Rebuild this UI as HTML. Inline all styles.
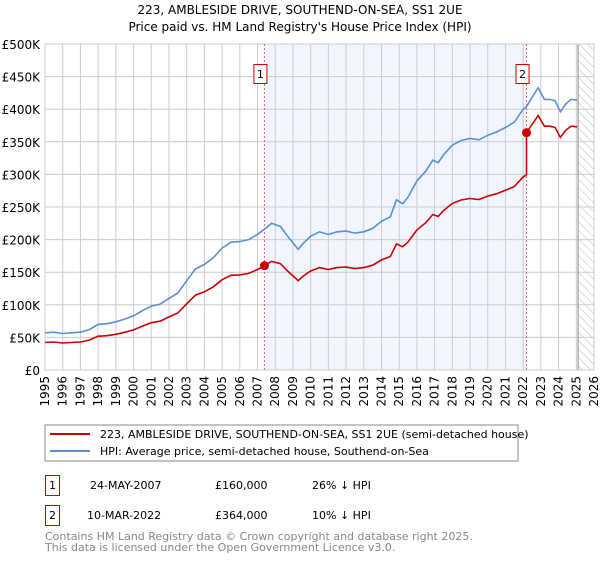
<!DOCTYPE html>
<html><head><meta charset="utf-8"><style>
body{margin:0;background:#fff;font-family:"DejaVu Sans","Liberation Sans",sans-serif;}
svg text{font-family:"DejaVu Sans","Liberation Sans",sans-serif;}
</style></head><body>
<svg id="chart" width="600" height="560" viewBox="0 0 600 560" xmlns="http://www.w3.org/2000/svg">
<defs><pattern id="hatch" width="6" height="6" patternUnits="userSpaceOnUse" patternTransform="rotate(-45)"><line x1="0" y1="0" x2="0" y2="6" stroke="#bbb" stroke-width="1"/></pattern></defs>
<text x="300" y="14" text-anchor="middle" font-size="12">223, AMBLESIDE DRIVE, SOUTHEND-ON-SEA, SS1 2UE</text>
<text x="300" y="31" text-anchor="middle" font-size="12">Price paid vs. HM Land Registry's House Price Index (HPI)</text>
<g id="plot"></g>
<rect x="45" y="425" width="473" height="36" fill="#fff" stroke="#888"/>
<line x1="50" y1="434" x2="90" y2="434" stroke="#cc0000" stroke-width="2"/>
<text x="100" y="438" font-size="11">223, AMBLESIDE DRIVE, SOUTHEND-ON-SEA, SS1 2UE (semi-detached house)</text>
<line x1="50" y1="451" x2="90" y2="451" stroke="#5b8fd4" stroke-width="2"/>
<text x="100" y="455" font-size="11">HPI: Average price, semi-detached house, Southend-on-Sea</text>
<g>
<rect x="45.5" y="475.5" width="14" height="20" fill="#fff" stroke="#c00"/>
<text x="52.5" y="489" text-anchor="middle" font-size="11">1</text>
<text x="90" y="489" font-size="11">24-MAY-2007</text>
<text x="215" y="489" font-size="11">£160,000</text>
<text x="312" y="489" font-size="11">26% ↓ HPI</text></g>
<g>
<rect x="45.5" y="505.5" width="14" height="20" fill="#fff" stroke="#c00"/>
<text x="52.5" y="519" text-anchor="middle" font-size="11">2</text>
<text x="87" y="519" font-size="11">10-MAR-2022</text>
<text x="215" y="519" font-size="11">£364,000</text>
<text x="312" y="519" font-size="11">10% ↓ HPI</text></g>
<text x="45" y="540" font-size="11" fill="#888">Contains HM Land Registry data © Crown copyright and database right 2025.</text>
<text x="45" y="551" font-size="11" fill="#888">This data is licensed under the Open Government Licence v3.0.</text>
</svg>
<script>
const hpiYears=[1995,1995.5,1996,1996.5,1997,1997.5,1998,1998.5,1999,1999.5,2000,2000.5,2001,2001.5,2002,2002.5,2003,2003.5,2004,2004.5,2005,2005.5,2006,2006.5,2007,2007.39,2007.8,2008.3,2008.7,2009.3,2009.6,2010,2010.5,2011,2011.5,2012,2012.5,2013,2013.5,2014,2014.5,2014.85,2015.2,2015.5,2016,2016.5,2016.9,2017.2,2017.5,2018,2018.5,2019,2019.5,2020,2020.5,2021,2021.5,2022,2022.19,2022.5,2022.85,2023.2,2023.5,2023.8,2024.1,2024.4,2024.7,2025.05];
const hpiValues=[57,58,56,57,58,62,70,71,74,78,83,91,98,101,110,118,137,155,162,172,187,196,197,200,208,216,225,220,205,185,195,205,212,208,212,213,210,212,217,228,235,261,255,265,290,305,322,318,330,345,352,355,353,360,365,372,380,400,404,418,433,415,415,413,396,408,415,414];
const saleYears=[2007.39,2022.19];
const salePrices=[160,364];
const saleLabels=["1","2"];
const yTicks=[0,50,100,150,200,250,300,350,400,450,500];
const yTickLabels=["£0","£50K","£100K","£150K","£200K","£250K","£300K","£350K","£400K","£450K","£500K"];
const xTicks=[1995,1996,1997,1998,1999,2000,2001,2002,2003,2004,2005,2006,2007,2008,2009,2010,2011,2012,2013,2014,2015,2016,2017,2018,2019,2020,2021,2022,2023,2024,2025,2026];
const X0=45,X1=594,Y0=370,Y1=44;
const xs=y=>X0+(y-1995)/(2026-1995)*(X1-X0);
const ys=v=>Y0-v/500*(Y0-Y1);
const NS="http://www.w3.org/2000/svg";
const g=document.getElementById('plot');
function mk(t,a,p){const e=document.createElementNS(NS,t);for(const k in a)e.setAttribute(k,a[k]);(p||g).appendChild(e);return e;}
const bg=mk('rect',{x:X0,y:Y1,width:X1-X0,height:Y0-Y1,fill:'#fff'});


const sh=mk('rect',{x:xs(saleYears[0]),y:Y1,width:xs(saleYears[1])-xs(saleYears[0]),height:Y0-Y1,fill:'#eef3fc',opacity:0.8});


const hx=xs(2025.1);
const ht=mk('rect',{x:hx,y:Y1,width:X1-hx,height:Y0-Y1,fill:'url(#hatch)'});


yTicks.forEach((v,i)=>{
 const l=mk('line',{x1:X0,x2:X1,y1:ys(v),y2:ys(v),stroke:'#ccc'});
 
 
 const t=mk('text',{x:X0-5,y:ys(v)+5,'text-anchor':'end','font-size':12});
 
 
 t.textContent=yTickLabels[i];
});
xTicks.forEach(yr=>{
 const l=mk('line',{x1:xs(yr),x2:xs(yr),y1:Y1,y2:Y0,stroke:'#ccc'});
 
 
 const t=mk('text',{x:0,y:0,'text-anchor':'end','font-size':12,transform:`translate(${xs(yr)+4},${Y0+6}) rotate(-90)`});
 
 
 t.textContent=yr;
});
mk('line',{x1:hx,x2:hx,y1:Y1,y2:Y0,stroke:'#888'});
const fr=mk('rect',{x:X0,y:Y1,width:X1-X0,height:Y0-Y1,fill:'none',stroke:'#ccc'});


saleYears.forEach((sy,i)=>{
 const l=mk('line',{x1:xs(sy),x2:xs(sy),y1:Y1,y2:Y0,stroke:'#e06060','stroke-dasharray':'2,2'});
 
 
});
function hpiAt(y){for(let i=1;i<hpiYears.length;i++){if(y<=hpiYears[i]){const t=(y-hpiYears[i-1])/(hpiYears[i]-hpiYears[i-1]);return hpiValues[i-1]+t*(hpiValues[i]-hpiValues[i-1]);}}return hpiValues[hpiValues.length-1];}
const ratios=saleYears.map((sy,i)=>salePrices[i]/hpiAt(sy));
const bp=hpiYears.map((y,i)=>`${i?'L':'M'}${xs(y).toFixed(1)},${ys(hpiValues[i]).toFixed(1)}`).join('');
const bl=mk('path',{d:bp,fill:'none',stroke:'#5b8fd4','stroke-width':1.6});


let rp='';
hpiYears.forEach((y,i)=>{
 if(y<saleYears[0]-1e-6)return;
 const r=y<saleYears[1]-1e-6?ratios[0]:ratios[1];
 if(Math.abs(y-saleYears[1])<1e-6){rp+=`L${xs(y).toFixed(1)},${ys(hpiValues[i]*ratios[0]).toFixed(1)}`;}
 rp+=`${rp?'L':'M'}${xs(y).toFixed(1)},${ys(hpiValues[i]*r).toFixed(1)}`;
});
let pre='';
hpiYears.forEach((y,i)=>{if(y<=saleYears[0]+1e-6)pre+=`${pre?'L':'M'}${xs(y).toFixed(1)},${ys(hpiValues[i]*ratios[0]).toFixed(1)}`;});
const rl=mk('path',{d:pre+rp.replace(/^M/,'L'),fill:'none',stroke:'#cc0000','stroke-width':1.6});


saleYears.forEach((sy,i)=>{
 const c=mk('circle',{cx:xs(sy),cy:ys(salePrices[i]),r:4.5,fill:'#cc0000'});
 
 
 const bx=mk('rect',{x:xs(sy)-10.5,y:64.5,width:13,height:19,fill:'#fff',stroke:'#c00'});
 
 
 const t=mk('text',{x:xs(sy)-4,y:78,'text-anchor':'middle','font-size':11});
 
 
 t.textContent=saleLabels[i];
});
</script>
</body></html>
